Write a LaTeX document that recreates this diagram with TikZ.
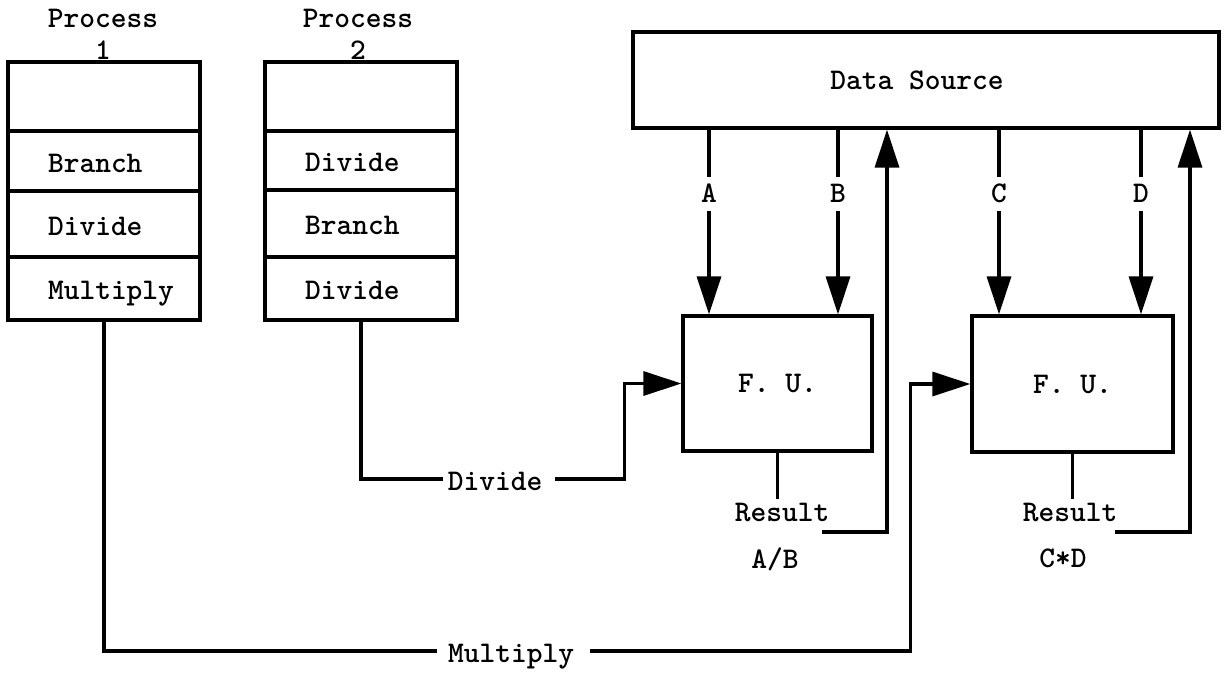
\documentclass[tikz,border=0pt]{standalone}
\usetikzlibrary{arrows.meta,calc}
\hfuzz=200pt
\begin{document}
\begin{tikzpicture}[x=1pt,y=-1pt,
  every node/.style={font=\fontsize{30}{32}\selectfont\ttfamily\bfseries},
  ln/.style={line width=3.2pt},
  arr/.style={-{Triangle[length=38pt,width=24pt]}},
  box/.style={draw,line width=3.2pt},
  cell/.style={draw,line width=3.2pt,outer sep=0pt,anchor=north west,minimum width=192pt,
    inner xsep=40pt,text width=112pt,align=left,text height=24pt,text depth=2pt},
  lab/.style={fill=white,inner xsep=2pt,inner ysep=8pt,text height=18pt,text depth=0pt}
]
\useasboundingbox (0,0) rectangle (1224,673);

% Process 1
\node[anchor=base] (p1t) at (103,27) {Process};
\node[anchor=base] (p1n) at (103,59) {1};
\node[cell,minimum height=69pt] (p1a) at (8,62) {};
\node[cell,minimum height=60pt,anchor=north] (p1b) at (p1a.south) {Branch};
\node[cell,minimum height=66pt,anchor=north] (p1c) at (p1b.south) {Divide};
\node[cell,minimum height=63pt,anchor=north] (p1d) at (p1c.south) {Multiply};

% Process 2
\node[anchor=base] (p2t) at (358,27) {Process};
\node[anchor=base] (p2n) at (358,59) {2};
\node[cell,minimum height=69pt] (p2a) at (265,62) {};
\node[cell,minimum height=59pt,anchor=north] (p2b) at (p2a.south) {Divide};
\node[cell,minimum height=67pt,anchor=north] (p2c) at (p2b.south) {Branch};
\node[cell,minimum height=63pt,anchor=north] (p2d) at (p2c.south) {Divide};

% Data source and functional units
\node[box,minimum width=586pt,minimum height=96pt] (ds) at (926,80) {Data Source\hspace*{18pt}};
\node[box,minimum width=189pt,minimum height=135pt] (fu1) at (777.5,383.5) {F. U.};
\node[box,minimum width=201pt,minimum height=136pt] (fu2) at (1072.5,384) {F. U.};

\coordinate (xA) at (709,0);
\coordinate (xB) at (838,0);
\coordinate (xU1) at (887,0);
\coordinate (xC) at (999,0);
\coordinate (xD) at (1141,0);
\coordinate (xU2) at (1190,0);

\draw[ln,arr] (ds.south -| xA) -- node[lab,pos=0.346]{A} (fu1.north -| xA);
\draw[ln,arr] (ds.south -| xB) -- node[lab,pos=0.346]{B} (fu1.north -| xB);
\draw[ln,arr] (ds.south -| xC) -- node[lab,pos=0.346]{C} (fu2.north -| xC);
\draw[ln,arr] (ds.south -| xD) -- node[lab,pos=0.346]{D} (fu2.north -| xD);

% Results
\node[anchor=base] (r1) at (782,521) {Result};
\node[anchor=base] (ab) at (775,568) {A/B};
\node[anchor=base] (r2) at (1070,521) {Result};
\node[anchor=base] (cd) at (1063,567) {C*D};
\draw[ln] (fu1.south) -- (fu1.south |- r1.north);
\draw[ln] (fu2.south) -- (fu2.south |- r2.north);
\coordinate (r1o) at (822,532);
\coordinate (r2o) at (1115,532);
\draw[ln,arr] (r1o) -| (ds.south -| xU1);
\draw[ln,arr] (r2o) -| (ds.south -| xU2);

% Divide connector
\node[anchor=base] (dv) at (495,490) {Divide};
\coordinate (dvL) at (443,479);
\coordinate (dvR) at (555,479);
\draw[ln] (p2d.south) |- (dvL);
\draw[ln,arr] (dvR) -| ($(fu1.west)+(-57,0)$) -- (fu1.west);

% Multiply connector
\node[anchor=base] (ml) at (511,662) {Multiply};
\coordinate (mL) at (437,651);
\coordinate (mR) at (590,651);
\draw[ln] (p1d.south) |- (mL);
\draw[ln,arr] (mR) -| ($(fu2.west)+(-60,0)$) -- (fu2.west);
\end{tikzpicture}
\end{document}
